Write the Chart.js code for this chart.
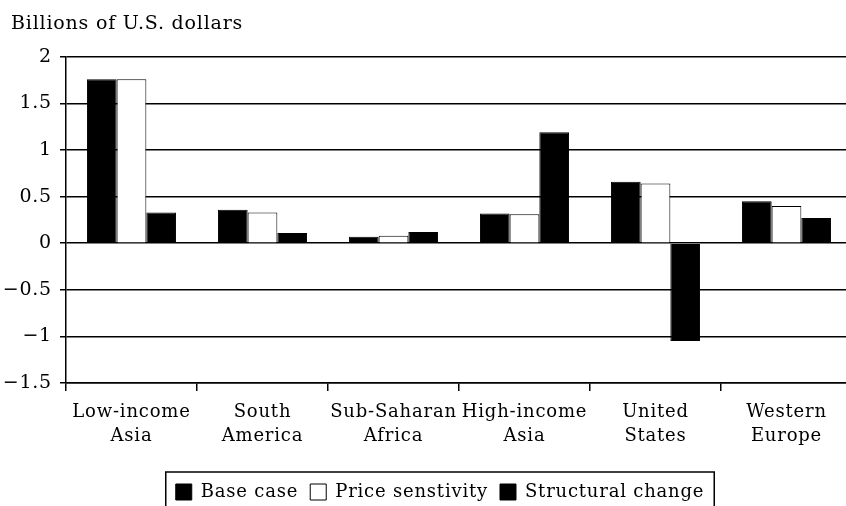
<!DOCTYPE html>
<html>
<head>
<meta charset="utf-8">
<script src="https://cdn.jsdelivr.net/npm/chart.js@4.4.1/dist/chart.umd.min.js"></script>
<style>
  html, body { margin: 0; padding: 0; background: #fff; overflow: hidden; }
  #wrap { width: 846px; height: 506px; overflow: hidden; }
</style>
</head>
<body>
<div id="wrap"><canvas id="c" width="854" height="511"></canvas></div>
<script>
const titleText = "Billions of U.S. dollars";
const categories = [
  ["Low-income", "Asia"],
  ["South", "America"],
  ["Sub-Saharan", "Africa"],
  ["High-income", "Asia"],
  ["United", "States"],
  ["Western", "Europe"]
];
const seriesNames = ["Base case", "Price senstivity", "Structural change"];
const baseCase = [1.76, 0.36, 0.07, 0.32, 0.66, 0.45];
const priceSensitivity = [1.76, 0.33, 0.08, 0.31, 0.64, 0.40];
const structuralChange = [0.33, 0.11, 0.12, 1.19, -1.05, 0.27];
const yTickValues = [2, 1.5, 1, 0.5, 0, -0.5, -1, -1.5];
const yTickLabels = ["2", "1.5", "1", "0.5", "0", "\u22120.5", "\u22121", "\u22121.5"];

const FONT = "'DejaVu Serif', 'Liberation Serif', serif";

const spacing = {
  id: 'spacing',
  beforeUpdate(chart) { chart.ctx.letterSpacing = '0.8px'; },
  beforeLayout(chart) { chart.ctx.letterSpacing = '0.8px'; },
  beforeDraw(chart) { chart.ctx.letterSpacing = '0.8px'; }
};

const legendFrame = {
  id: 'legendFrame',
  afterLayout(chart) {
    chart.legend.left += 26;
    chart.titleBlock.left += 9;
  },
  afterDraw(chart) {
    const lg = chart.legend;
    const boxes = lg.legendHitBoxes;
    if (!boxes || !boxes.length) return;
    const first = boxes[0], last = boxes[boxes.length - 1];
    const ctx = chart.ctx;
    ctx.save();
    ctx.strokeStyle = '#000';
    ctx.lineWidth = 1.5;
    const l = first.left - 10, r = last.left + last.width + 10;
    const t = lg.top + 1;
    ctx.beginPath();
    ctx.moveTo(l, chart.height + 5);
    ctx.lineTo(l, t);
    ctx.lineTo(r, t);
    ctx.lineTo(r, chart.height + 5);
    ctx.stroke();
    ctx.restore();
  }
};

new Chart(document.getElementById('c'), {
  type: 'bar',
  data: {
    labels: categories,
    datasets: [
      { label: seriesNames[0], data: baseCase, backgroundColor: '#000', borderColor: '#000', borderWidth: 1 },
      { label: seriesNames[1], data: priceSensitivity, backgroundColor: '#fff', borderColor: '#000', borderWidth: 1 },
      { label: seriesNames[2], data: structuralChange, backgroundColor: '#000', borderColor: '#000', borderWidth: 1 }
    ]
  },
  options: {
    responsive: false,
    animation: false,
    datasets: { bar: { categoryPercentage: 0.68, barPercentage: 1.0 } },
    layout: { padding: { left: 2, right: 2, top: 0, bottom: 0 } },
    plugins: {
      title: {
        display: true,
        text: titleText,
        align: 'start',
        color: '#000',
        font: { family: FONT, size: 19, weight: 'normal' },
        padding: { top: 13, bottom: 21 }
      },
      legend: {
        position: 'bottom',
        labels: {
          color: '#000',
          font: { family: FONT, size: 18 },
          boxWidth: 16,
          boxHeight: 16,
          padding: 12
        }
      },
      tooltip: { enabled: false }
    },
    scales: {
      x: {
        grid: { display: true, drawOnChartArea: false, drawTicks: true, tickLength: 8, color: '#000', lineWidth: 1.5, offset: true },
        border: { display: true, color: '#000', width: 1.5 },
        ticks: { color: '#000', font: { family: FONT, size: 18, lineHeight: 1.3 }, padding: 10, maxRotation: 0, autoSkip: false },
        afterFit(scale) { scale.height = 88; }
      },
      y: {
        min: -1.5,
        max: 2,
        afterBuildTicks(scale) { scale.ticks = yTickValues.map(v => ({ value: v })); },
        grid: { color: '#000', lineWidth: 1.5, tickLength: 6, drawTicks: true },
        border: { display: true, color: '#000', width: 1.5 },
        ticks: {
          color: '#000',
          font: { family: FONT, size: 19 },
          padding: 8,
          callback(value) {
            const i = yTickValues.indexOf(value);
            return i >= 0 ? yTickLabels[i] : '';
          }
        },
        afterFit(scale) { scale.width = 64; }
      }
    }
  },
  plugins: [spacing, legendFrame]
});
</script>
</body>
</html>
